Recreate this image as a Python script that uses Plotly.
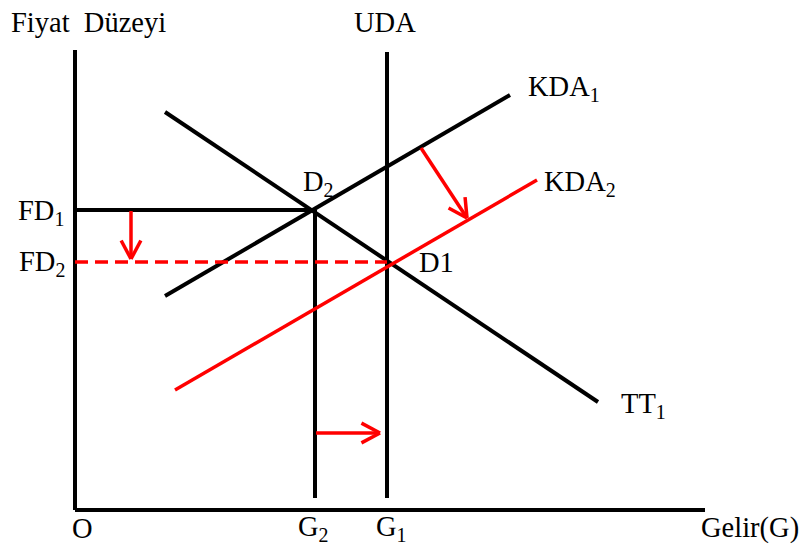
import math
import plotly.graph_objects as go

# Diagram geometry (pixel-like units, y grows downward)
axis_y_x = [75, 75];    axis_y_y = [50, 510]
axis_x_x = [75, 705];   axis_x_y = [510, 510]
uda_x = [387, 387];     uda_y = [52, 498]
g2_x = [315, 315];      g2_y = [210, 498]
fd1_x = [75, 315];      fd1_y = [210, 210]
fd2_x = [75, 387];      fd2_y = [262, 262]
kda1_x = [165, 510];    kda1_y = [296, 95]
kda2_x = [175, 537];    kda2_y = [390, 180]
tt1_x = [165, 598];     tt1_y = [112, 402]

# Shift arrows: (start x, start y, end x, end y)
arrows = [
    (131, 211, 131, 259),
    (421, 148, 467, 218),
    (316, 433, 380, 433),
]

# Labels: text, x, y, xanchor
labels = [
    ("Fiyat\u00a0\u00a0Düzeyi", 9, 22, "left"),
    ("UDA", 385, 22, "center"),
    ("KDA<sub>1</sub>", 526, 88, "left"),
    ("KDA<sub>2</sub>", 542, 183, "left"),
    ("D<sub>2</sub>", 301, 183, "left"),
    ("D1", 417, 262, "left"),
    ("FD<sub>1</sub>", 66, 212, "right"),
    ("FD<sub>2</sub>", 67, 263, "right"),
    ("TT<sub>1</sub>", 619, 405, "left"),
    ("O", 82, 528, "center"),
    ("G<sub>2</sub>", 313, 528, "center"),
    ("G<sub>1</sub>", 391, 528, "center"),
    ("Gelir(G)", 801, 528, "right"),
]

BLACK = "#000000"
RED = "#ff0000"
FONT = "Liberation Serif"

fig = go.Figure()

def seg(xs, ys, color, width, dash="solid"):
    fig.add_trace(go.Scatter(x=xs, y=ys, mode="lines",
                             line=dict(color=color, width=width, dash=dash),
                             hoverinfo="skip", showlegend=False))

seg(axis_y_x, axis_y_y, BLACK, 4)
seg(axis_x_x, axis_x_y, BLACK, 4)
seg(uda_x, uda_y, BLACK, 4)
seg(g2_x, g2_y, BLACK, 4)
seg(fd1_x, fd1_y, BLACK, 4)
seg(kda1_x, kda1_y, BLACK, 4)
seg(tt1_x, tt1_y, BLACK, 4)
seg(kda2_x, kda2_y, RED, 3.5)
seg(fd2_x, fd2_y, RED, 3.5, dash="13px,7px")

head_len = 21
head_ang = math.radians(28)
for x0, y0, x1, y1 in arrows:
    seg([x0, x1], [y0, y1], RED, 3.5)
    ang = math.atan2(y0 - y1, x0 - x1)
    for s in (-1, 1):
        a = ang + s * head_ang
        seg([x1 + head_len * math.cos(a), x1], [y1 + head_len * math.sin(a), y1], RED, 3.5)

for text, x, y, xa in labels:
    fig.add_annotation(x=x, y=y, text=text, showarrow=False, xanchor=xa, yanchor="middle",
                       font=dict(family=FONT, size=28.5, color=BLACK))

fig.update_layout(
    width=803, height=547,
    margin=dict(l=0, r=0, t=0, b=0),
    paper_bgcolor="white", plot_bgcolor="white",
    xaxis=dict(range=[0, 803], visible=False, fixedrange=True),
    yaxis=dict(range=[547, 0], visible=False, fixedrange=True),
)

fig.write_html(
    "out.html",
    config={"displayModeBar": False, "staticPlot": True},
    post_script="document.body.style.margin='0';document.body.style.overflow='hidden';",
)
